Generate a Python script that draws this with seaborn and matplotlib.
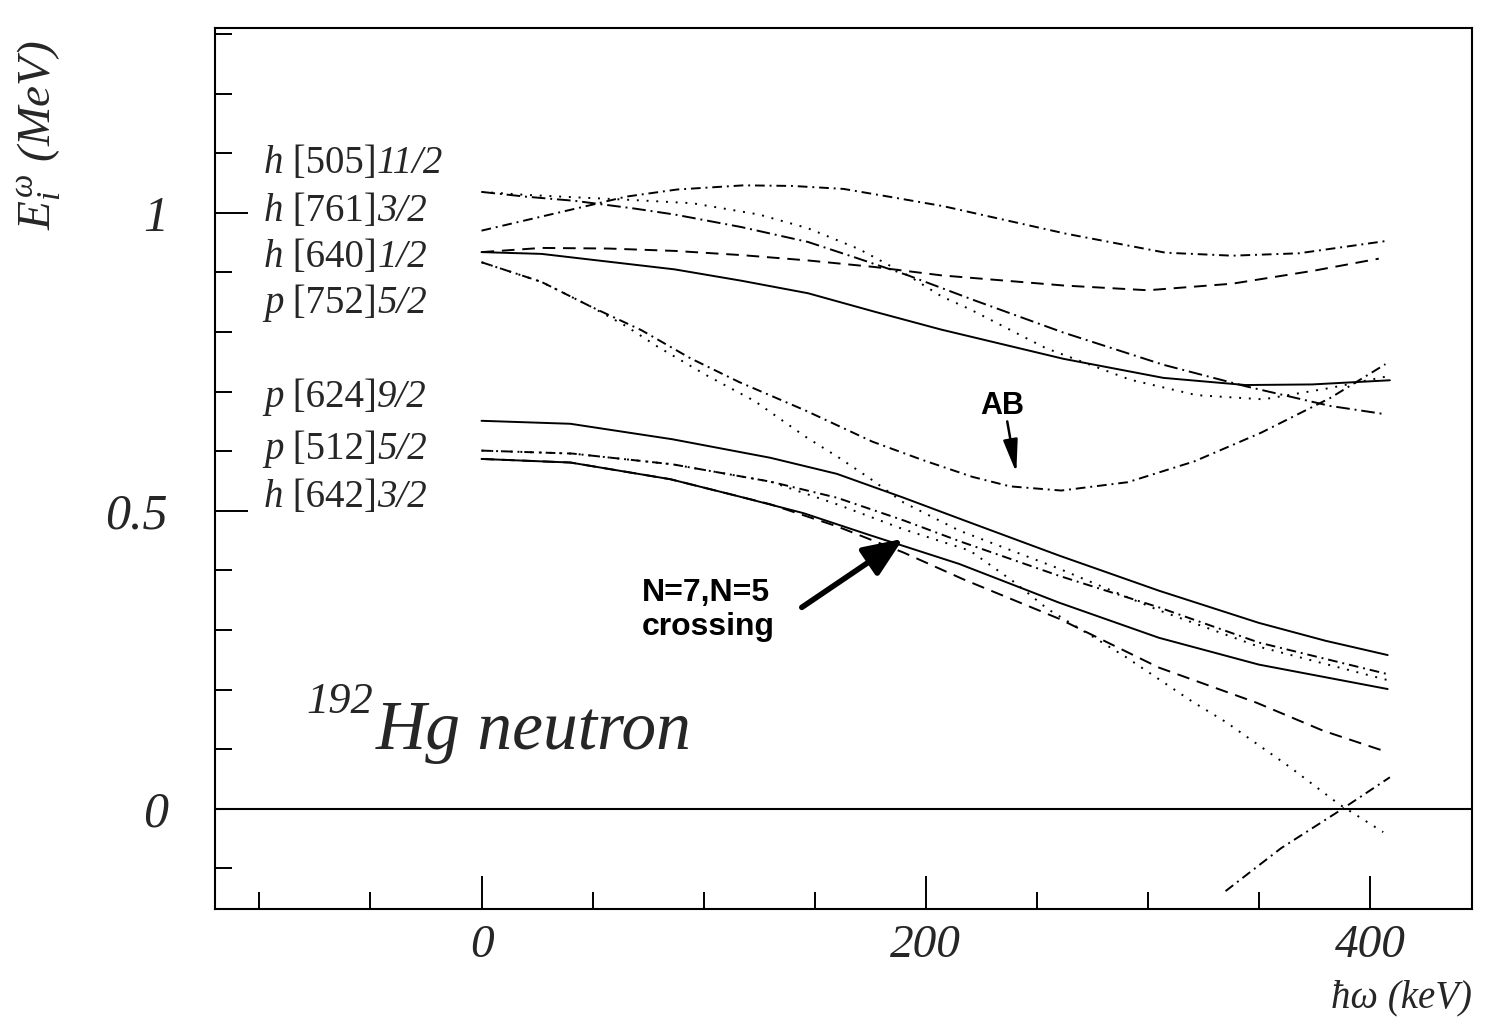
import seaborn as sns
import matplotlib.pyplot as plt

# quasineutron routhians, 192Hg  (hbar*omega in keV, E in MeV)
w_hump = [0, 24, 47, 65, 88, 118, 140, 163, 185, 208, 263, 308, 338, 368, 408]
e_hump = [0.970, 0.991, 1.011, 1.027, 1.039, 1.046, 1.045, 1.040, 1.026, 1.011, 0.965, 0.933, 0.928, 0.932, 0.953]

w_desc = [0, 20, 42, 69, 87, 117, 147, 169, 192, 222, 262, 307, 344, 382, 407]
e_desc = [1.035, 1.027, 1.020, 1.007, 0.997, 0.976, 0.951, 0.924, 0.895, 0.853, 0.799, 0.745, 0.709, 0.676, 0.662]

w_dot_hi = [0, 20, 42, 65, 95, 125, 147, 170, 192, 207, 220, 254, 292, 322, 352, 382, 407]
e_dot_hi = [1.035, 1.030, 1.026, 1.022, 1.016, 0.997, 0.974, 0.939, 0.895, 0.860, 0.838, 0.773, 0.720, 0.694, 0.687, 0.706, 0.725]

w_dash_hi = [0, 27, 57, 87, 117, 147, 177, 207, 262, 300, 338, 375, 404]
e_dash_hi = [0.934, 0.941, 0.940, 0.936, 0.929, 0.920, 0.909, 0.895, 0.878, 0.870, 0.881, 0.903, 0.923]

w_h640 = [0, 27, 57, 87, 117, 147, 177, 207, 262, 307, 344, 374, 409]
e_h640 = [0.934, 0.931, 0.918, 0.905, 0.886, 0.865, 0.834, 0.804, 0.755, 0.723, 0.711, 0.712, 0.719]

w_ab = [0, 27, 49, 72, 94, 116, 146, 176, 198, 221, 238, 261, 291, 321, 351, 382, 407]
e_ab = [0.917, 0.884, 0.843, 0.803, 0.756, 0.716, 0.668, 0.616, 0.586, 0.557, 0.541, 0.534, 0.548, 0.583, 0.631, 0.689, 0.746]

w_dot_a = [0, 27, 49, 65, 79, 101, 123, 146, 161, 175, 190, 215, 260, 305, 350, 408]
e_dot_a = [0.917, 0.884, 0.843, 0.810, 0.776, 0.728, 0.684, 0.624, 0.589, 0.554, 0.514, 0.467, 0.403, 0.333, 0.272, 0.216]

w_p624 = [0, 40, 86, 130, 160, 190, 218, 260, 305, 350, 380, 408]
e_p624 = [0.651, 0.646, 0.620, 0.589, 0.562, 0.522, 0.483, 0.425, 0.366, 0.312, 0.282, 0.258]

w_p512 = [0, 41, 86, 130, 160, 190, 216, 260, 305, 350, 408]
e_p512 = [0.601, 0.596, 0.578, 0.549, 0.522, 0.484, 0.448, 0.391, 0.338, 0.279, 0.226]

w_dot_b = [0, 41, 86, 130, 160, 190, 220, 240, 255, 290, 320, 335, 364, 386, 406]
e_dot_b = [0.601, 0.596, 0.578, 0.549, 0.511, 0.469, 0.433, 0.380, 0.335, 0.255, 0.180, 0.146, 0.070, 0.008, -0.039]

w_h642 = [0, 40, 85, 115, 145, 175, 215, 260, 305, 350, 408]
e_h642 = [0.587, 0.581, 0.553, 0.525, 0.496, 0.459, 0.411, 0.346, 0.287, 0.242, 0.201]

w_dash_lo = [0, 40, 85, 115, 130, 160, 190, 217, 260, 305, 349, 379, 408]
e_dash_lo = [0.587, 0.581, 0.553, 0.525, 0.511, 0.474, 0.430, 0.385, 0.319, 0.237, 0.178, 0.131, 0.095]

w_intr = [335, 360, 386, 409]
e_intr = [-0.138, -0.066, -0.004, 0.053]

# orbital labels: parity letter, Nilsson numbers, Omega
orb_letter = ["h", "h", "h", "p", "p", "p", "h"]
orb_nilsson = [" [505]", " [761]", " [640]", " [752]", " [624]", " [512]", " [642]"]
orb_omega = ["11/2", "3/2", "1/2", "5/2", "9/2", "5/2", "3/2"]
label_y = [1.083, 1.002, 0.925, 0.848, 0.690, 0.603, 0.522]

x_major = [0, 200, 400]
x_minor = [-100, -50, 50, 100, 150, 250, 300, 350]
x_ticklabels = ["0", "200", "400"]
y_major = [0, 0.5, 1]
y_minor = [-0.1, 0.1, 0.2, 0.3, 0.4, 0.6, 0.7, 0.8, 0.9, 1.1, 1.2, 1.3]
y_ticklabels = ["0", "0.5", "1"]

sns.set_theme(style="white")
plt.rcParams['font.family'] = ['Liberation Serif', 'DejaVu Serif']
plt.rcParams['mathtext.fontset'] = 'custom'
plt.rcParams['mathtext.rm'] = 'Liberation Serif'
plt.rcParams['mathtext.it'] = 'Liberation Serif:italic'
plt.rcParams['mathtext.bf'] = 'Liberation Serif:bold'

fig = plt.figure(figsize=(14.91, 10.21), dpi=100)
ax = fig.add_axes([0.1442, 0.1097, 0.8431, 0.8629])

DASHDOT = (0, (5, 2.5, 1, 2.5))
LONGDD = (0, (7, 2.5, 1, 2.5))
DASHED = (0, (6.5, 4))
DOTTED = (0, (1, 4))

curves = [
    (w_hump, e_hump, DASHDOT),
    (w_desc, e_desc, LONGDD),
    (w_dot_hi, e_dot_hi, DOTTED),
    (w_dash_hi, e_dash_hi, DASHED),
    (w_h640, e_h640, '-'),
    (w_ab, e_ab, DASHDOT),
    (w_dot_a, e_dot_a, DOTTED),
    (w_p624, e_p624, '-'),
    (w_p512, e_p512, DASHDOT),
    (w_dot_b, e_dot_b, DOTTED),
    (w_h642, e_h642, '-'),
    (w_dash_lo, e_dash_lo, DASHED),
    (w_intr, e_intr, DASHDOT),
]
for xs, ys, ls in curves:
    sns.lineplot(x=xs, y=ys, ax=ax, color='black', lw=1.4, linestyle=ls,
                 estimator=None, sort=False, errorbar=None)

ax.axhline(0, color='black', lw=1.5)

ax.set_xlim(-120, 446)
ax.set_ylim(-0.168, 1.31)

ax.set_xticks(x_major)
ax.set_xticks(x_minor, minor=True)
ax.set_xticklabels(x_ticklabels, fontsize=34, fontstyle='italic')
ax.set_yticks(y_major)
ax.set_yticks(y_minor, minor=True)
ax.set_yticklabels(y_ticklabels, fontsize=36, fontstyle='italic')
ax.tick_params(which='both', direction='in', color='black', width=1.4,
               bottom=True, left=True, top=False, right=False)
ax.tick_params(which='major', length=24)
ax.tick_params(which='minor', length=12)
ax.tick_params(axis='y', pad=34)
ax.tick_params(axis='x', pad=11)
for s in ax.spines.values():
    s.set_color('black')
    s.set_linewidth(1.5)

# mixed italic / upright orbital labels, pieced together
for let, nil, om, yy in zip(orb_letter, orb_nilsson, orb_omega, label_y):
    t = ax.text(-98, yy, let, fontsize=28, fontstyle='italic', ha='left', va='center')
    t = ax.annotate(nil, xy=(1, 0), xycoords=t, va='bottom', fontsize=28)
    ax.annotate(om, xy=(1, 0), xycoords=t, va='bottom', fontsize=28, fontstyle='italic')

ax.text(-78.7, 0.161, "192", fontsize=32, fontstyle='italic', ha='left', va='baseline')
ax.text(-47.5, 0.100, "Hg neutron", fontsize=50, fontstyle='italic', ha='left', va='baseline')

sans = dict(family='Liberation Sans', fontweight='bold', color='black')
ax.text(234.5, 0.662, "AB", fontsize=22, ha='center', va='baseline', **sans)
ax.annotate("", xy=(240.8, 0.564), xytext=(236.7, 0.650),
            arrowprops=dict(arrowstyle='-|>,head_length=1.0,head_width=0.22',
                            color='black', lw=1.8, shrinkA=0, shrinkB=0, mutation_scale=20))
ax.text(101.2, 0.349, "N=7,N=5", fontsize=23, ha='center', va='baseline', **sans)
ax.text(102, 0.291, "crossing", fontsize=23, ha='center', va='baseline', **sans)
ax.annotate("", xy=(189.8, 0.453), xytext=(144.2, 0.338),
            arrowprops=dict(arrowstyle='-|>,head_length=1.2,head_width=0.5',
                            color='black', lw=4, shrinkA=0, shrinkB=0, mutation_scale=20))

fig.text(0.027, 0.868, r"$E_i^{\omega}$ (MeV)", fontsize=34, fontstyle='italic',
         rotation=90, ha='center', va='center')
fig.text(0.987, 0.004, "ħω (keV)", fontsize=28, fontstyle='italic', ha='right', va='bottom')

fig.savefig("out.png", dpi=100)
